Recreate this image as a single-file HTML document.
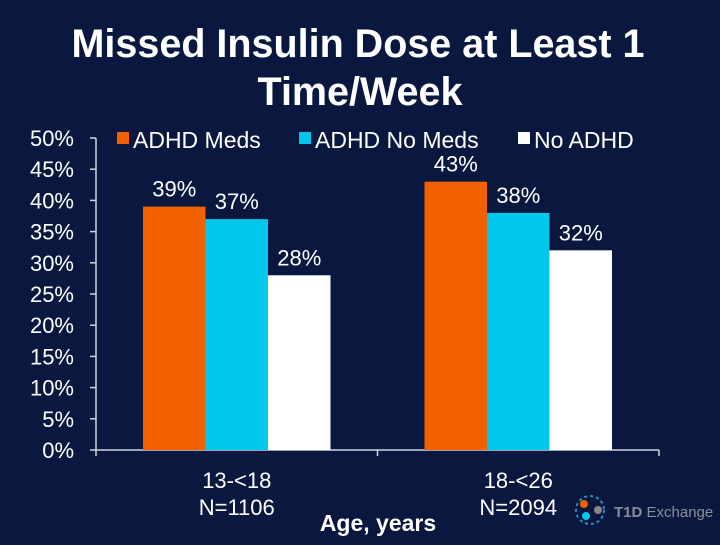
<!DOCTYPE html>
<html><head><meta charset="utf-8"><style>
body{margin:0;background:#0a1840;width:720px;height:540px;overflow:hidden;font-family:"Liberation Sans",sans-serif}
</style></head><body>
<svg width="720" height="540" xmlns="http://www.w3.org/2000/svg">
<rect width="720" height="540" fill="#0a1840"/>
<text x="358" y="57" fill="#fff" font-size="39.5" font-weight="bold" text-anchor="middle">Missed Insulin Dose at Least 1</text>
<text x="360" y="105" fill="#fff" font-size="39.5" font-weight="bold" text-anchor="middle">Time/Week</text>
<g id="plot"></g>
<g>
<rect x="117" y="132" width="12" height="12" fill="#f26100"/>
<text x="133" y="148" fill="#fff" font-size="23">ADHD Meds</text>
<rect x="299" y="132" width="12" height="12" fill="#00c8ec"/>
<text x="315" y="148" fill="#fff" font-size="23">ADHD No Meds</text>
<rect x="518" y="132" width="12" height="12" fill="#fff"/>
<text x="534" y="148" fill="#fff" font-size="23">No ADHD</text>
</g>
<text x="378" y="531" fill="#fff" font-size="23" font-weight="bold" text-anchor="middle">Age, years</text>
<g>
<circle cx="590" cy="510" r="14" fill="none" stroke="#2a8fc0" stroke-width="2" stroke-dasharray="3 3"/>
<circle cx="584" cy="504" r="4" fill="#f26100"/>
<circle cx="586" cy="516" r="4" fill="#00c8ec"/>
<circle cx="598" cy="510" r="4" fill="#888"/>
<text x="614" y="517" fill="#8a8f9a" font-size="15"><tspan font-weight="bold">T1D</tspan> Exchange</text>
</g>
</svg>
<script>
const categories=["13-<18","18-<26"];
const categoryN=["N=1106","N=2094"];
const seriesNames=["ADHD Meds","ADHD No Meds","No ADHD"];
const adhdMeds=[39,43];
const adhdNoMeds=[37,38];
const noAdhd=[28,32];
const yTicks=[0,5,10,15,20,25,30,35,40,45,50];
const colors=["#f26100","#00c8ec","#ffffff"];
const NS="http://www.w3.org/2000/svg";
const g=document.getElementById('plot');
const x0=96,x1=659,y0=450,y1=138;
const y=v=>y0-(v/50)*(y0-y1);
const catW=(x1-x0)/categories.length;
const bw=62.5;
function mk(t,a){const e=document.createElementNS(NS,t);for(const k in a)e.setAttribute(k,a[k]);g.appendChild(e);return e;}
let e=mk('line',{x1:x0,y1:y1,x2:x0,y2:y0,stroke:'#d0d4dc','stroke-width':1.5});


e=mk('line',{x1:x0,y1:y0,x2:x1,y2:y0,stroke:'#d0d4dc','stroke-width':1.5});


yTicks.forEach(t=>{
 let l=mk('line',{x1:x0-6,y1:y(t),x2:x0,y2:y(t),stroke:'#d0d4dc','stroke-width':1.5});
 
 
 let tx=mk('text',{x:74,y:y(t)+8,fill:'#fff','font-size':22,'text-anchor':'end'});
 tx.textContent=t+'%';
 
 
});
for(let i=0;i<=categories.length;i++){
 let l=mk('line',{x1:x0+i*catW,y1:y0,x2:x0+i*catW,y2:y0+6,stroke:'#d0d4dc','stroke-width':1.5});
 
 
}
const series=[adhdMeds,adhdNoMeds,noAdhd];
categories.forEach((c,i)=>{
 const cx=x0+catW*(i+0.5);
 series.forEach((s,j)=>{
  const bx=cx-1.5*bw+j*bw;
  let r=mk('rect',{x:bx,y:y(s[i]),width:bw,height:y0-y(s[i]),fill:colors[j]});
  
  
  let t=mk('text',{x:bx+bw/2,y:y(s[i])-10,fill:'#fff','font-size':22,'text-anchor':'middle'});
  t.textContent=s[i]+'%';
  
  
 });
 let t1=mk('text',{x:cx,y:488,fill:'#fff','font-size':22,'text-anchor':'middle'});
 t1.textContent=c;
 
 
 let t2=mk('text',{x:cx,y:515,fill:'#fff','font-size':22,'text-anchor':'middle'});
 t2.textContent=categoryN[i];
 
 
});
</script>
</body></html>
